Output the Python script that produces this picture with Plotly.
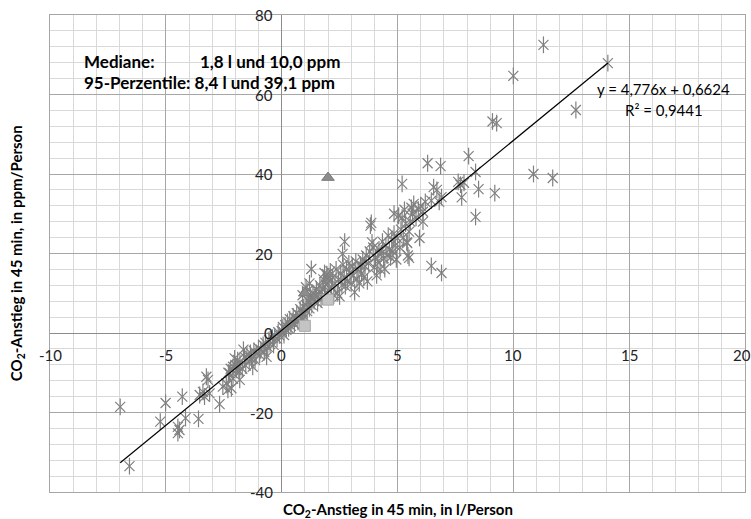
import plotly.graph_objects as go

# CO2 increase per person: litres (x) vs ppm (y)
litres = [
    # lower tail
    -6.97, -6.57, -5.01, -4.29, -5.24, -4.48, -4.48, -4.41, -4.15, -3.59, -2.68,
    -3.25, -3.18, -3.40, -3.11, -3.54, -3.33,
    -2.03, -2.10, -1.96, -2.25, -1.81, -2.39, -2.17, -2.32, -2.54,
    # around the origin
    -2.0, -1.9, -1.85, -1.8, -1.7, -1.6, -1.55, -1.5, -1.4, -1.35, -1.3, -1.2, -1.15, -1.1,
    -1.0, -0.95, -0.9, -0.8, -0.75, -0.7, -0.6, -0.55, -0.5, -0.4, -0.35, -0.3, -0.2, -0.15,
    -0.1, 0.0, -2.3, -2.2, -2.1, -1.65, -1.25, -0.65,
    0.05, 0.1, 0.15, 0.2, 0.25, 0.3, 0.35, 0.4, 0.45, 0.5, 0.55, 0.6, 0.65, 0.7, 0.75, 0.8,
    0.85, 0.9, 0.95, 1.0, 1.05, 1.1, 1.15, 1.2, 1.25, 1.3, 1.35, 1.4, 1.45, 1.5, 1.05, 1.1,
    0.9, 1.2, 1.28,
    # middle band
    1.55, 1.6, 1.65, 1.7, 1.75, 1.8, 1.85, 1.9, 1.95, 2.0, 2.05, 2.1, 2.15, 2.2, 2.25, 2.3,
    2.35, 2.4, 2.45, 2.5, 2.55, 2.6, 2.65, 2.7, 2.75, 2.8, 2.85, 2.9, 2.95, 3.0, 3.05, 3.1,
    3.15, 3.2, 3.25, 3.3, 3.35, 3.4, 3.45, 2.63, 2.72, 1.85, 2.0,
    3.5, 3.55, 3.6, 3.65, 3.7, 3.75, 3.8, 3.83, 3.87, 3.9, 3.95, 4.0, 4.05, 4.1, 4.15, 4.2,
    4.25, 4.3, 4.35, 4.4, 4.45, 4.5, 4.55, 4.6, 4.65, 4.7, 4.75, 4.8, 4.85, 4.9, 4.95, 5.0,
    5.05, 5.1, 5.15, 5.2, 5.25, 5.3, 5.35, 5.4, 5.45, 5.5, 5.2, 4.85,
    # upper band and outliers
    5.55, 5.6, 5.65, 5.7, 5.8, 5.9, 5.95, 6.0, 6.1, 5.42, 5.5, 6.3, 6.86, 6.46, 6.56, 6.7,
    6.8, 6.9, 6.46, 6.9, 7.62, 7.72, 7.87, 7.77, 8.07, 8.37, 8.5, 8.37, 9.2, 9.1, 9.28,
    10.0, 11.3, 14.08, 12.7, 10.87, 11.7, 6.1, 6.2,
]
ppm = [
    -18.6, -33.5, -17.6, -16.0, -22.3, -23.6, -25.2, -24.4, -21.4, -21.6, -17.9,
    -11.0, -11.8, -14.8, -15.2, -15.6, -16.0,
    -6.4, -8.5, -9.3, -10.1, -11.8, -12.7, -13.9, -14.3, -13.5,
    -8.0, -6.8, -9.5, -7.5, -9.0, -6.0, -8.2, -5.5, -7.0, -5.0, -6.5, -4.5, -6.8, -5.2,
    -3.8, -5.5, -4.2, -3.0, -4.8, -2.5, -3.5, -1.8, -2.8, -1.2, -3.0, -0.8, -1.5, 0.2,
    -0.6, 0.5, -10.0, -9.0, -11.5, -4.2, -8.5, -6.0,
    1.5, -0.5, 2.0, 0.8, 2.8, 1.2, 3.5, 1.8, 3.0, 4.2, 2.2, 3.6, 5.0, 2.8, 4.5, 6.0,
    3.5, 5.2, 6.5, 4.0, 7.0, 5.5, 8.0, 6.2, 9.0, 7.0, 10.0, 8.0, 9.5, 11.0, 11.5, 10.5,
    9.5, 12.5, 16.1,
    7.5, 9.8, 12.0, 8.5, 11.0, 13.5, 9.5, 12.2, 14.8, 10.8, 13.0, 15.5, 11.5, 14.0, 9.5, 12.5,
    16.0, 10.0, 13.5, 9.2, 15.0, 12.0, 17.2, 14.0, 11.8, 16.0, 13.0, 17.5, 15.2, 12.5, 16.8, 14.5,
    10.3, 18.0, 13.5, 16.0, 12.5, 17.2, 15.0, 19.9, 23.0, 15.1, 13.7,
    18.5, 14.0, 16.8, 19.5, 13.0, 17.5, 20.5, 27.0, 27.7, 22.8, 21.5, 16.5, 19.0, 14.5, 18.0, 21.0,
    16.0, 20.0, 23.0, 18.8, 16.1, 22.0, 19.5, 24.5, 21.0, 19.0, 23.5, 20.5, 25.0, 22.0, 18.5, 23.8,
    29.5, 21.5, 26.0, 29.0, 24.0, 31.0, 27.5, 22.8, 19.5, 25.5, 37.5, 30.0,
    28.0, 31.5, 30.0, 32.5, 29.0, 31.0, 23.9, 32.0, 28.0, 22.6, 18.9, 42.7, 42.0, 33.3, 36.7, 36.0,
    33.0, 34.2, 16.9, 15.1, 38.0, 37.3, 37.8, 34.1, 44.5, 40.5, 36.2, 29.2, 35.2, 53.2, 52.8,
    64.7, 72.5, 67.9, 56.1, 40.0, 39.0, 30.5, 33.0,
]

# summary markers: litres (squares) and ppm (triangles) for median (1) and 95th percentile (2)
summary_pos = [1, 2]
summary_litres = [1.8, 8.4]
summary_ppm = [10.0, 39.1]

# linear trend line
slope = 4.776
intercept = 0.6624
r_squared = 0.9441

x_ticks = [-10, -5, 0, 5, 10, 15, 20]
y_ticks = [-40, -20, 0, 20, 40, 60, 80]

FONT = "Lato"
GREY = "#808080"

fig = go.Figure()

# star marker = diagonal cross + vertical bar
fig.add_trace(go.Scatter(
    x=litres, y=ppm, mode="markers", showlegend=False, hoverinfo="skip",
    marker=dict(symbol="x-thin-open", size=10, color=GREY, line=dict(color=GREY, width=1.2)),
))
fig.add_trace(go.Scatter(
    x=litres, y=ppm, mode="markers", showlegend=False,
    marker=dict(symbol="line-ns-open", size=12, color=GREY, line=dict(color=GREY, width=1.2)),
))

fig.add_trace(go.Scatter(
    x=summary_pos, y=summary_litres, mode="markers", showlegend=False,
    marker=dict(symbol="square", size=11, color="#c4c4c4", line=dict(color="#a8a8a8", width=1)),
))
fig.add_trace(go.Scatter(
    x=summary_pos, y=summary_ppm, mode="markers", showlegend=False,
    marker=dict(symbol="triangle-up", size=11, color="#8c8c8c", line=dict(color="#7a7a7a", width=1)),
))

x_lo, x_hi = min(litres), max(litres)
fig.add_trace(go.Scatter(
    x=[x_lo, x_hi], y=[slope * x_lo + intercept, slope * x_hi + intercept],
    mode="lines", showlegend=False, line=dict(color="black", width=1.2),
))

annotations = []
for t in x_ticks:
    annotations.append(dict(x=t, y=0, xref="x", yref="y", text=str(t), showarrow=False,
                            yshift=-22, xshift=-3 if t == x_ticks[-1] else 0,
                            font=dict(family=FONT, size=15, color="#222")))
for t in y_ticks:
    annotations.append(dict(x=0, y=t, xref="x", yref="y", text=str(t), showarrow=False,
                            xanchor="right", xshift=-7, font=dict(family=FONT, size=15, color="#222")))

bold = dict(family=FONT, size=17, color="black")
annotations += [
    dict(x=-8.6, y=68.2, xref="x", yref="y", text="<b>Mediane:</b>", showarrow=False,
         xanchor="left", font=bold),
    dict(x=-3.63, y=68.2, xref="x", yref="y", text="<b>1,8 l und 10,0 ppm</b>", showarrow=False,
         xanchor="left", font=bold),
    dict(x=-8.6, y=62.9, xref="x", yref="y", text="<b>95-Perzentile: 8,4 l und 39,1 ppm</b>",
         showarrow=False, xanchor="left", font=bold),
    dict(x=16.5, y=61.3, xref="x", yref="y",
         text=f"y = {slope:.3f}x + {intercept:.4f}".replace(".", ","), showarrow=False,
         font=dict(family=FONT, size=15, color="black")),
    dict(x=16.5, y=56.1, xref="x", yref="y",
         text=f"R² = {r_squared:.4f}".replace(".", ","), showarrow=False,
         font=dict(family=FONT, size=15, color="black")),
    dict(x=0.5, y=-0.038, xref="paper", yref="paper", yanchor="middle",
         text="<b>CO<sub>2</sub>-Anstieg in 45 min, in l/Person</b>", showarrow=False,
         font=dict(family=FONT, size=15, color="black")),
    dict(x=-0.048, y=0.5, xref="paper", yref="paper", textangle=-90, xanchor="center",
         text="<b>CO<sub>2</sub>-Anstieg in 45 min, in ppm/Person</b>", showarrow=False,
         font=dict(family=FONT, size=15, color="black")),
]

axis_common = dict(
    showticklabels=False, ticks="", showgrid=True, gridcolor="#a6a6a6", gridwidth=1,
    zeroline=True, zerolinecolor="#8c8c8c", zerolinewidth=1,
    showline=True, linecolor="#a6a6a6", linewidth=1, mirror=True,
)

fig.update_layout(
    width=751, height=519, autosize=False,
    margin=dict(l=50, r=6, t=15, b=27),
    paper_bgcolor="white", plot_bgcolor="white",
    xaxis=dict(range=[-10, 20], dtick=5, tick0=0,
               minor=dict(dtick=1, showgrid=True, gridcolor="#d9d9d9", gridwidth=1),
               **axis_common),
    yaxis=dict(range=[-40, 80], dtick=20, tick0=0,
               minor=dict(dtick=4, showgrid=True, gridcolor="#d9d9d9", gridwidth=1),
               **axis_common),
    annotations=annotations,
    font=dict(family=FONT),
)

fig.write_html("out.html")
